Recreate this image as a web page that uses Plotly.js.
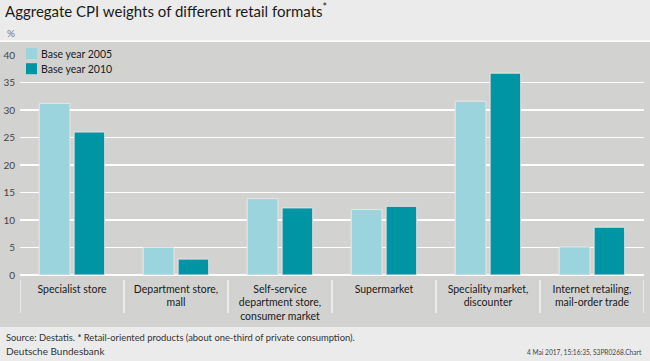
<!DOCTYPE html>
<html>
<head>
<meta charset="utf-8">
<script src="https://cdn.plot.ly/plotly-3.0.1.min.js"></script>
<style>html,body{margin:0;padding:0;background:#ebebeb;}#chart{width:650px;height:361px;}</style>
</head>
<body>
<div id="chart"></div>
<script>
var categories = ['Specialist store', 'Department store,<br>mall', 'Self-service<br>department store,<br>consumer market', 'Supermarket', 'Speciality market,<br>discounter', 'Internet retailing,<br>mail-order trade'];
var base2005 = [31.2, 5.0, 13.9, 11.9, 31.6, 5.1];
var base2010 = [26.0, 2.9, 12.2, 12.5, 36.7, 8.7];
var yTicks = [0, 5, 10, 15, 20, 25, 30, 35, 40];
var seriesNames = ['Base year 2005', 'Base year 2010'];
var seriesColors = ['#9bd4dc', '#0095a4'];

var W = 650, H = 361;
var mL = 20, mR = 6, mT = 55, mB = 86;
var pw = W - mL - mR, ph = H - mT - mB;
function px(x){ return (x - mL) / pw; }
function py(y){ return (H - mB - y) / ph; }

var FONT = 'Lato, Noto Sans, sans-serif';
var panel = '#d2d2d0';

var idx = categories.map(function(_, i){ return i; });
var traces = [0, 1].map(function(s){
  return {type:'bar', x: idx, y: s === 0 ? base2005 : base2010, name: seriesNames[s],
    marker:{color: seriesColors[s], line:{color:'#ebe3e3', width:1}}, hoverinfo:'y', showlegend:false};
});

var shapes = [
  {type:'rect', xref:'paper', yref:'paper', x0: px(0), x1: px(W), y0: py(327), y1: py(42), fillcolor: panel, line:{width:0}, layer:'below'},
  {type:'line', xref:'paper', yref:'paper', x0: px(0), x1: px(W), y0: py(41.3), y1: py(41.3), line:{color:'#ffffff', width:1.5}, layer:'below'},
  // legend background hiding the top gridline
  {type:'rect', xref:'paper', yref:'paper', x0: px(22), x1: px(108), y0: py(77), y1: py(45), fillcolor: panel, line:{width:0}, layer:'above'}
];
for (var k = 0; k <= categories.length; k++) {
  shapes.push({type:'line', xref:'x', yref:'paper', x0: k - 0.5, x1: k - 0.5, y0: py(280), y1: py(313), line:{color:'#f2f2f2', width:1.5}});
}

var annotations = [
  {text:'%', xref:'paper', yref:'paper', x: px(5), y: py(33), xanchor:'left', yanchor:'middle', showarrow:false, font:{family:FONT, size:10, color:'#777'}},
  {text:'Source: Destatis. <b>*</b> Retail-oriented products (about one-third of private consumption).', xref:'paper', yref:'paper', x: px(4), y: py(337), xanchor:'left', yanchor:'middle', showarrow:false, font:{family:FONT, size:9.4, color:'#333'}},
  {text:'Deutsche Bundesbank', xref:'paper', yref:'paper', x: px(4), y: py(351), xanchor:'left', yanchor:'middle', showarrow:false, font:{family:FONT, size:10, color:'#333'}},
  {text:'4 Mai 2017, 15:16:35, S3PR0268.Chart', xref:'paper', yref:'paper', x: px(644), y: py(352), xanchor:'right', yanchor:'middle', showarrow:false, font:{family:FONT, size:6.6, color:'#444'}}
];

// manual legend (boxes + labels)
var legRowY = [53.5, 68.7];
for (var s = 0; s < 2; s++) {
  shapes.push({type:'rect', xref:'paper', yref:'paper', x0: px(26), x1: px(37), y0: py(legRowY[s] + 5.5), y1: py(legRowY[s] - 5.5), fillcolor: seriesColors[s], line:{width:0}, layer:'above'});
  annotations.push({text: seriesNames[s], xref:'paper', yref:'paper', x: px(39), y: py(legRowY[s]), xanchor:'left', yanchor:'middle', showarrow:false, font:{family:FONT, size:10.5, color:'#1a1a1a'}});
}

var layout = {
  width: W, height: H,
  margin:{l:mL, r:mR, t:mT, b:mB, pad:0},
  paper_bgcolor:'#ebebeb',
  plot_bgcolor: panel,
  font:{family:FONT, size:11, color:'#222'},
  title:{text:'Aggregate CPI weights of different retail formats<sup style="font-size:8px">*</sup>', xref:'container', yref:'container', x: 5/W, xanchor:'left', y: 1 - 12/H, yanchor:'middle', font:{family:FONT, size:15, color:'#1a1a1a'}},
  barmode:'group', bargap:0.33, bargroupgap:0.12,
  showlegend:false,
  xaxis:{range:[-0.5, categories.length - 0.5], tickvals: idx, ticktext: categories, showgrid:false, zeroline:false, showline:false, ticks:'', ticklabelstandoff:6, tickfont:{family:FONT, size:10.5, color:'#1a1a1a'}, fixedrange:true},
  yaxis:{range:[0, 40], tickvals: yTicks, showgrid:true, gridcolor:'#ffffff', gridwidth:1.5, zeroline:true, zerolinecolor:'#ffffff', zerolinewidth:1.5, showline:false, ticks:'', ticklabelstandoff:4, tickfont:{family:FONT, size:10, color:'#444'}, fixedrange:true},
  shapes: shapes,
  annotations: annotations
};

Plotly.newPlot('chart', traces, layout, {displayModeBar:false, staticPlot:true});
</script>
</body>
</html>
